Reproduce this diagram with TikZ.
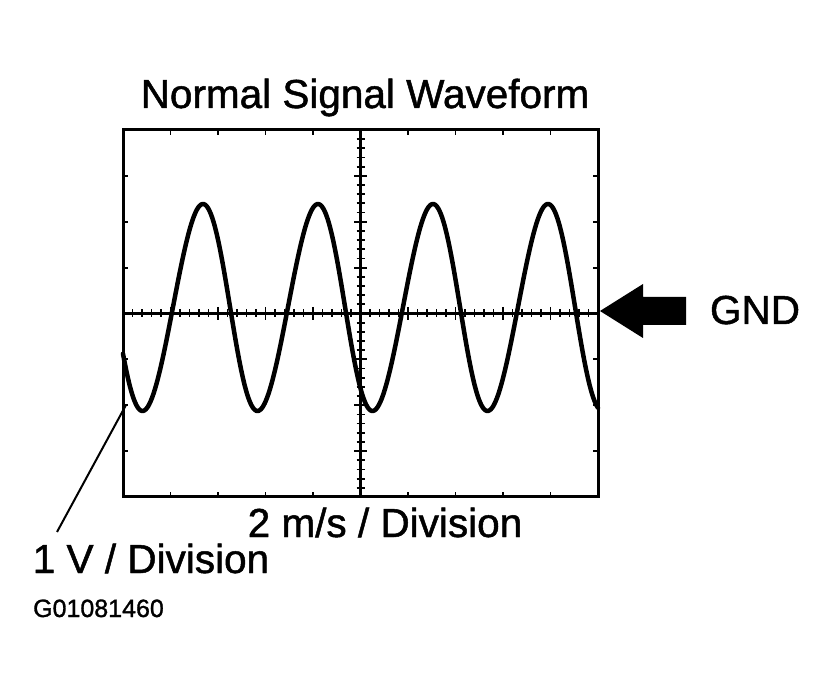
\documentclass[tikz,border=0pt]{standalone}
\usepackage{fontspec}
\setmainfont{Liberation Sans}
\newfontface\heavyface{Liberation Sans}[FakeBold=1.2]
\begin{document}
\begin{tikzpicture}[x=1pt,y=-1pt,
  frame/.style={draw, line width=3pt, minimum width=475pt, minimum height=367pt, inner sep=0pt},
  axis/.style={line width=2.5pt},
  tickmark/.style={line width=1.8pt},
  wave/.style={line width=4.5pt, line join=round, line cap=round},
  leader/.style={line width=2pt},
  lbl/.style={font=\heavyface\fontsize{40.5}{48}\selectfont, inner sep=0pt, anchor=base},
  smalllbl/.style={font=\heavyface\fontsize{25}{30}\selectfont, inner sep=0pt, anchor=base},
  declare function={th(\t)=((\t-200)/115)*360;}]
\useasboundingbox (0,0) rectangle (836,692);
\fill[white] (0,0) rectangle (836,692);
% screen frame
\node[frame] (screen) at (360.5,313.5) {};
% axes
\draw[axis] (123,313.5) -- (598,313.5);
\draw[axis] (360.5,130) -- (360.5,497);
% minor ticks on axes
\foreach \i in {1,...,49} \draw[tickmark] ({123+\i*9.5},309.5) -- ({123+\i*9.5},317.5);
\foreach \i in {1,...,9} \draw[tickmark] ({123+\i*47.5},307) -- ({123+\i*47.5},320);
\foreach \i in {1,...,39} \draw[tickmark] (356.5,{130+\i*9.175}) -- (364.5,{130+\i*9.175});
\foreach \i in {1,...,7} \draw[tickmark] (354,{130+\i*45.875}) -- (367,{130+\i*45.875});
% edge ticks
\foreach \i in {1,...,9} {
  \draw[tickmark] ({123+\i*47.5},130) -- ++(0,5);
  \draw[tickmark] ({123+\i*47.5},497) -- ++(0,-5);
}
\foreach \i in {1,...,7} {
  \draw[tickmark] (123,{130+\i*45.875}) -- ++(5,0);
  \draw[tickmark] (598,{130+\i*45.875}) -- ++(-5,0);
}
% waveform
\draw[wave] plot[domain=123:598, samples=400]
  (\x, {307.5-103.5*cos(th(\x)-4.7*(1+cos(th(\x))))});
% GND arrow
\fill (600,311) -- (643,284) -- (643,297) -- (686,297) -- (686,325) -- (643,325) -- (643,338) -- cycle;
% labels
\node[lbl] (title) at (365,108) {Normal Signal Waveform};
\node[lbl] (gnd) at (755,324) {GND};
\node[lbl] (tdiv) at (385,537) {2 m/s / Division};
\node[lbl] (vdiv) at (151,573) {1 V / Division};
\node[smalllbl] (code) at (98.5,617) {G01081460};
% leader
\coordinate (lt) at (126,405);
\coordinate (lb) at (57,532);
\draw[leader] (lb) -- (lt);
\end{tikzpicture}
\end{document}
